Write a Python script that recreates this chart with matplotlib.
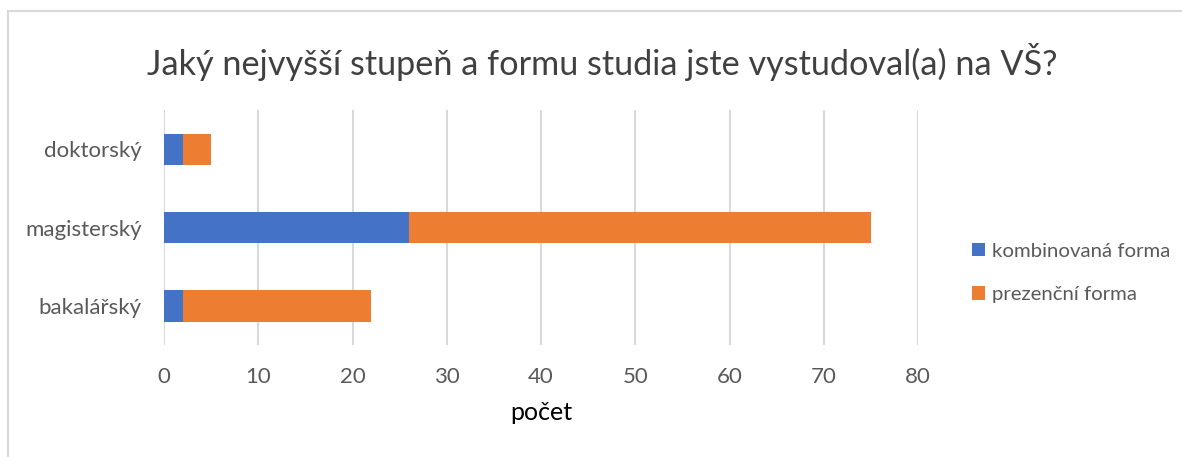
import matplotlib
matplotlib.use("Agg")
from matplotlib import pyplot as plt
from matplotlib.lines import Line2D

categories = ["bakalářský", "magisterský", "doktorský"]
kombinovana = [2, 26, 2]
prezencni = [20, 49, 3]
xticks = [0, 10, 20, 30, 40, 50, 60, 70, 80]

plt.rcParams['font.family'] = ['Lato', 'DejaVu Sans']
text_col = "#595959"

fig = plt.figure(figsize=(11.82, 4.57), dpi=100)
ax = fig.add_axes([164 / 1182, 1 - 345 / 457, (918 - 164) / 1182, (345 - 110) / 457])

y = range(len(categories))
ax.barh(y, kombinovana, height=0.4, color="#4472C4", label="kombinovaná forma", zorder=3)
ax.barh(y, prezencni, left=kombinovana, height=0.4, color="#ED7D31",
        label="prezenční forma", zorder=3)

ax.set_xlim(0, 80)
ax.set_ylim(-0.5, 2.5)
ax.set_xticks(xticks)
ax.set_yticks(list(y))
ax.set_yticklabels(categories)
ax.tick_params(length=0, labelsize=16, colors=text_col)
ax.tick_params(axis="x", pad=16)
ax.tick_params(axis="y", pad=16)
ax.grid(axis="x", color="#d9d9d9", linewidth=1.5, zorder=0)
for s in ax.spines.values():
    s.set_visible(False)
ax.set_xlabel("počet", fontsize=18, color="black", labelpad=10)

fig.suptitle("Jaký nejvyšší stupeň a formu studia jste vystudoval(a) na VŠ?",
             x=602 / 1182, y=1 - 62 / 457, va="center", fontsize=24.7, color="#404040")

leg = ax.legend(loc="center left", bbox_to_anchor=(964 / 1182, 1 - 273 / 457),
                bbox_transform=fig.transFigure, frameon=False, fontsize=14.7,
                handlelength=0.65, handleheight=0.65, handletextpad=0.3,
                labelspacing=1.3, borderaxespad=0, labelcolor=text_col)

# chart border
fig.add_artist(Line2D([8 / 1182, 8 / 1182], [0, 1 - 11 / 457], transform=fig.transFigure,
                      color="#d9d9d9", linewidth=1.5))
fig.add_artist(Line2D([8 / 1182, 1], [1 - 11 / 457, 1 - 11 / 457], transform=fig.transFigure,
                      color="#d9d9d9", linewidth=1.5))

fig.savefig("out.png", dpi=100, facecolor="white")
